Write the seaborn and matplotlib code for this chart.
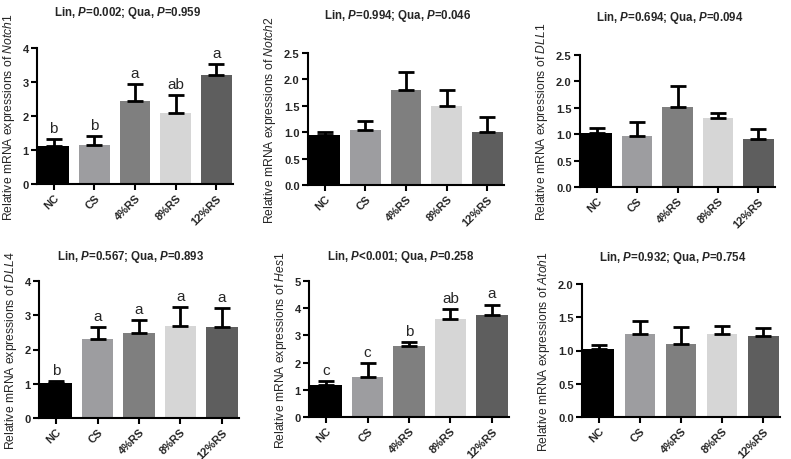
import numpy as np
import pandas as pd
import matplotlib
matplotlib.use("Agg")
import matplotlib.pyplot as plt
import seaborn as sns

sns.set_style("ticks")
plt.rcParams['font.family'] = ['Liberation Sans', 'DejaVu Sans']
plt.rcParams['mathtext.fontset'] = 'custom'
plt.rcParams['mathtext.rm'] = 'Liberation Sans'
plt.rcParams['mathtext.it'] = 'Liberation Sans:italic'
plt.rcParams['mathtext.bf'] = 'Liberation Sans:bold'
plt.rcParams['mathtext.bfit'] = 'Liberation Sans:italic:bold'

groups = ['NC', 'CS', '4%RS', '8%RS', '12%RS']
bar_colors = ['#000000', '#9d9ca1', '#7f7f7f', '#d6d6d6', '#5e5e5e']

genes = ['Notch1', 'Notch2', 'DLL1', 'DLL4', 'Hes1', 'Atoh1']
lin_p = ['=0.002', '=0.994', '=0.694', '=0.567', '<0.001', '=0.932']
qua_p = ['=0.959', '=0.046', '=0.094', '=0.893', '=0.258', '=0.754']

notch1_mean = [1.12, 1.14, 2.44, 2.08, 3.22]
notch1_sem = [0.21, 0.27, 0.51, 0.54, 0.30]
notch1_letters = ['b', 'b', 'a', 'ab', 'a']

notch2_mean = [0.94, 1.04, 1.79, 1.49, 1.00]
notch2_sem = [0.06, 0.18, 0.35, 0.30, 0.29]

dll1_mean = [1.03, 0.96, 1.52, 1.31, 0.91]
dll1_sem = [0.08, 0.28, 0.39, 0.10, 0.18]

dll4_mean = [1.01, 2.32, 2.49, 2.70, 2.67]
dll4_sem = [0.08, 0.34, 0.38, 0.54, 0.54]
dll4_letters = ['b', 'a', 'a', 'a', 'a']

hes1_mean = [1.17, 1.48, 2.62, 3.59, 3.76]
hes1_sem = [0.15, 0.49, 0.13, 0.38, 0.37]
hes1_letters = ['c', 'c', 'b', 'ab', 'a']

atoh1_mean = [1.02, 1.245, 1.095, 1.25, 1.215]
atoh1_sem = [0.065, 0.20, 0.265, 0.115, 0.13]

means = [notch1_mean, notch2_mean, dll1_mean, dll4_mean, hes1_mean, atoh1_mean]
sems = [notch1_sem, notch2_sem, dll1_sem, dll4_sem, hes1_sem, atoh1_sem]
letters = [notch1_letters, None, None, dll4_letters, hes1_letters, None]
ylims = [4, 2.5, 2.5, 4, 5, 2.0]
ysteps = [1, 0.5, 0.5, 1, 1, 0.5]
ydec = [0, 1, 1, 0, 0, 1]

# axes boxes in pixels: left, right, top, bottom
W, H = 791, 460
boxes = [(37, 233, 49, 185), (308, 504, 54, 186), (580, 775, 56, 188),
         (39, 239, 282, 419), (309, 509, 282, 418), (582, 780, 285, 418)]
title_pads = [24, 25, 25, 15.5, 16, 17]

fig = plt.figure(figsize=(W / 100, H / 100), dpi=100)

for i, gene in enumerate(genes):
    l, r, t, b = boxes[i]
    ax = fig.add_axes([l / W, 1 - b / H, (r - l) / W, (b - t) / H])
    df = pd.DataFrame({'group': groups, 'value': means[i]})
    sns.barplot(data=df, x='group', y='value', hue='group', palette=bar_colors,
                width=0.75, legend=False, ax=ax, errorbar=None, linewidth=0)
    ax.errorbar(range(5), means[i], yerr=[np.zeros(5), sems[i]], fmt='none',
                ecolor='black', elinewidth=2, capsize=6, capthick=2, zorder=3)
    if letters[i] is not None:
        for k in range(5):
            ax.annotate(letters[i][k], (k, means[i][k] + sems[i][k]),
                        xytext=(0, 3), textcoords='offset points',
                        ha='center', va='bottom', fontsize=11)
    ax.set_xlim(-0.41, 4.41)
    ax.set_ylim(0, ylims[i])
    ticks = np.arange(0, ylims[i] + 1e-9, ysteps[i])
    ax.set_yticks(ticks)
    ax.set_yticklabels([f"{v:.{ydec[i]}f}" for v in ticks], fontweight='bold', fontsize=8)
    ax.set_xticks(range(5))
    ax.set_xticklabels(groups, rotation=45, ha='right', rotation_mode='anchor',
                       fontweight='bold', fontsize=8)
    ax.set_xlabel('')
    ax.set_ylabel(r"Relative mRNA expressions of $\mathit{" + gene + "}$", fontsize=8.7,
                  labelpad=4)
    ax.set_title(r"Lin, $\mathbfit{P}$" + lin_p[i] + r"; Qua, $\mathbfit{P}$" + qua_p[i],
                 fontweight='bold', fontsize=8.3, pad=title_pads[i], x=0.46)
    sns.despine(ax=ax)
    for s in ['left', 'bottom']:
        ax.spines[s].set_linewidth(1.5)
        ax.spines[s].set_color('black')
    ax.tick_params(width=1.5, length=4, color='black', pad=2)

fig.savefig('out.png', dpi=100)
